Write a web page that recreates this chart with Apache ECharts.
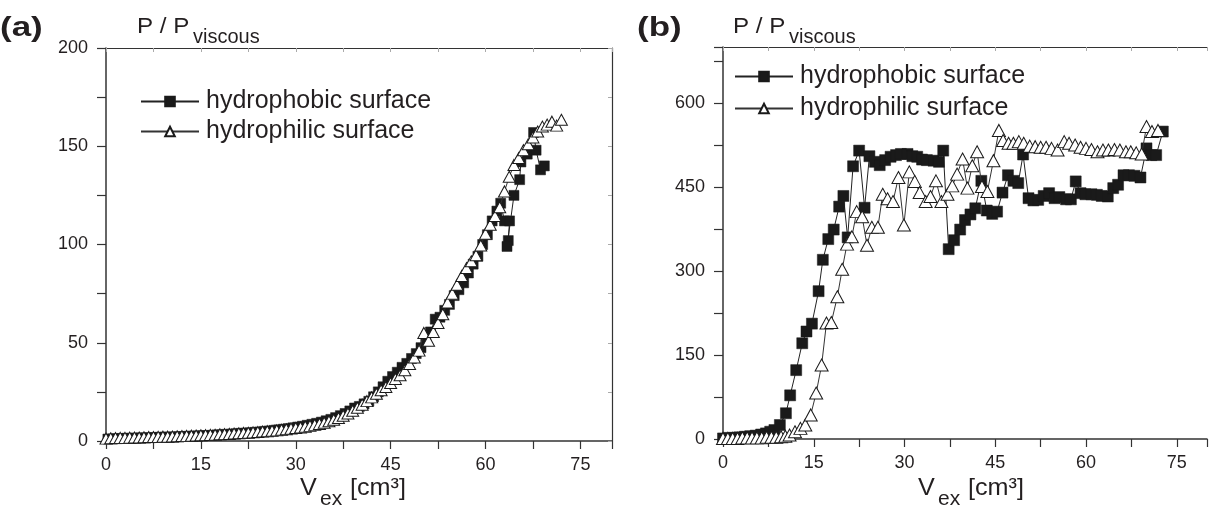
<!DOCTYPE html>
<html><head><meta charset="utf-8">
<script src="https://cdn.jsdelivr.net/npm/echarts@6/dist/echarts.min.js"></script>
<style>html,body{margin:0;padding:0;background:#fff}#c{width:1210px;height:516px}</style>
</head><body><div id="c"></div>
<script>
// ---- tick labels ----
const xTickLabels = [0, 15, 30, 45, 60, 75];
const yTickLabelsA = [0, 50, 100, 150, 200];
const yTickLabelsB = [0, 150, 300, 450, 600];
const seriesNames = ['hydrophobic surface', 'hydrophilic surface'];

// ---- panel (a) ----
const phobicA_x = [0.3,1.05,1.8,2.55,3.3,4.05,4.8,5.55,6.3,7.05,
  7.8,8.55,9.3,10.05,10.8,11.55,12.3,13.05,13.8,14.55,
  15.3,16.05,16.8,17.55,18.3,19.05,19.8,20.55,21.3,22.05,
  22.8,23.55,24.3,25.05,25.8,26.55,27.3,28.05,28.8,29.55,
  30.3,31.05,31.8,32.55,33.3,34.05,34.8,35.55,36.3,37.05,
  37.8,38.55,39.3,40.05,40.8,41.55,42.3,43.05,43.8,44.55,
  45.3,46.05,46.8,47.55,48.3,49.05,49.8,50.55,51.3,52.05,
  52.8,53.55,54.3,55.05,55.8,56.55,57.3,58.05,58.8,59.55,
  60.3,61.05,61.8,62.4,63.0,63.8,63.6,63.4,64.5,65.4,
  65.6,66.6,67.6,68.0,68.7,69.3];
const phobicA_y = [1.0,1.1,1.2,1.3,1.4,1.4,1.5,1.6,1.6,1.7,
  1.8,1.9,2.0,2.0,2.1,2.2,2.3,2.4,2.5,2.6,
  2.7,2.8,2.9,3.1,3.2,3.4,3.5,3.7,3.9,4.0,
  4.2,4.4,4.6,4.9,5.1,5.4,5.7,6.0,6.3,6.7,
  7.1,7.5,8.0,8.5,9.0,9.6,10.3,11.0,11.9,12.9,
  14.0,15.3,16.8,17.6,18.9,20.2,22.5,25.0,27.6,30.4,
  32.8,35.0,37.5,39.5,42.0,44.5,47.5,51.0,55.5,62.0,
  63.0,66.5,69.5,74.0,77.0,80.5,85.5,90.0,94.0,100.0,
  105.0,112.0,117.0,121.0,112.0,112.0,102.0,99.0,125.0,133.0,
  142.0,146.0,157.0,148.0,138.0,140.0];
const philicA_x = [0,0.75,1.5,2.25,3,3.75,4.5,5.25,6,6.75,
  7.5,8.25,9,9.75,10.5,11.25,12,12.75,13.5,14.25,
  15,15.75,16.5,17.25,18,18.75,19.5,20.25,21,21.75,
  22.5,23.25,24,24.75,25.5,26.25,27,27.75,28.5,29.25,
  30,30.75,31.5,32.25,33,33.75,34.5,35.25,36,36.75,
  37.5,38.25,39,39.75,40.5,41.25,42,42.75,43.5,44.25,
  45,45.75,46.5,47.25,48,48.75,49.5,50.25,51,51.75,
  52.5,53.25,54,54.75,55.5,56.25,57,57.75,58.5,59.25,
  60,60.75,61.5,62.25,63,63.75,64.5,65.25,66,66.75,
  67.5,68.25,69,69.75,70.5,71.25,72];
const philicA_y = [1.2,1.4,1.5,1.6,1.6,1.7,1.8,1.8,1.9,2.0,
  2.0,2.1,2.2,2.2,2.3,2.4,2.5,2.6,2.7,2.8,
  2.9,3.0,3.1,3.2,3.4,3.5,3.6,3.8,3.9,4.1,
  4.2,4.4,4.6,4.8,5.0,5.2,5.4,5.7,6.0,6.3,
  6.6,6.9,7.3,7.7,8.2,8.7,9.3,10.0,10.8,11.7,
  12.8,14.0,15.4,16.9,18.5,20.3,22.2,24.0,25.8,27.5,
  29.5,31.6,33.5,36.0,39.2,42.5,46.0,55.0,51.0,55.5,
  60.0,64.5,70.5,75.0,79.5,84.0,88.0,91.5,94.5,99.5,
  105.5,110.0,114.5,119.0,127.0,134.5,140.5,144.0,148.0,151.0,
  154.5,157.5,160.0,161.0,162.5,160.5,163.5];

// ---- panel (b) ----
const phobicB_x = [0,0.9,1.8,2.7,3.6,4.5,5.4,6.3,7.1,7.8,
  8.5,9.4,10.4,11.1,12.1,13.1,13.8,14.7,15.8,16.5,
  17.4,18.3,19.2,19.9,20.6,21.5,22.5,23.4,24.2,25.1,
  25.9,26.8,27.7,28.6,29.4,30.5,31.3,32.1,32.9,33.7,
  34.8,35.7,36.4,37.3,38.2,39.2,40.0,40.9,41.7,42.7,
  43.6,44.5,45.3,46.2,47.1,48.0,48.8,49.6,50.5,51.3,
  52.1,53.0,53.9,54.8,55.6,56.7,57.5,58.3,59.1,59.9,
  60.9,61.8,62.6,63.6,64.5,65.3,66.2,67.1,68.0,69.0,
  70.0,70.8,71.6,72.7];
const phobicB_y = [1,2,2,3,4,5,6,8,10,13,
  16,25,46,78,123,171,192,206,264,320,
  357,374,415,434,360,487,515,413,505,495,
  489,498,504,507,509,509,505,504,499,498,
  497,495,515,339,355,374,391,401,412,461,
  408,402,406,440,471,461,457,508,430,426,
  427,434,439,430,432,428,428,460,439,437,
  437,436,434,433,448,454,471,471,470,467,
  519,507,507,549];
const philicB_x = [0,0.8,1.6,2.4,3.2,4.0,4.8,5.6,6.4,7.2,
  8.0,8.8,9.6,10.3,11.0,11.9,12.8,13.6,14.5,15.4,
  16.3,17.1,17.9,18.9,19.7,20.5,21.3,22.1,23.0,23.8,
  24.6,25.6,26.4,27.2,28.1,29.0,29.9,30.8,31.7,32.5,
  33.5,34.3,35.2,36.1,37.1,37.9,38.7,39.6,40.4,41.2,
  42.0,42.8,43.7,44.7,45.6,46.3,47.2,48.0,48.9,49.7,
  50.7,51.6,52.5,53.4,54.3,55.3,56.4,57.2,58.2,59.1,
  60.0,60.9,61.9,62.8,63.7,64.7,65.6,66.6,67.4,68.3,
  69.2,70.0,70.9,71.9];
const philicB_y = [1,1,1,1,2,2,2,2,2,3,
  3,3,4,5,7,13,19,25,43,82,
  132,207,208,254,303,348,361,406,397,346,
  378,378,437,429,424,467,382,477,460,440,
  424,433,461,424,437,452,473,500,448,488,
  513,451,442,497,551,533,528,528,531,528,
  523,522,521,521,519,516,531,528,525,521,
  519,517,513,516,516,517,516,513,513,511,
  509,558,549,551];

function pairs(xs, ys) { return xs.map((x, i) => [x, ys[i]]); }

const FONT = '"Liberation Sans", Arial, Helvetica, sans-serif';
const TXT = '#231f20';
const AX = '#333';

function xMain(g) {
  return { type: 'value', gridIndex: g, min: 0, max: 80, interval: 7.5, position: 'bottom',
    axisLine: { show: true, onZero: false, lineStyle: { color: AX, width: 1.5 } },
    axisTick: { show: true, inside: false, length: 8, lineStyle: { color: AX, width: 1.2 } },
    axisLabel: { show: true, margin: 15, fontSize: 18, color: TXT, fontFamily: FONT,
      formatter: v => xTickLabels.includes(v) ? String(v) : '' },
    splitLine: { show: false } };
}
function xTop(g) {
  return { type: 'value', gridIndex: g, min: 0, max: 80, interval: 7.5, position: 'top',
    axisLine: { show: true, onZero: false, lineStyle: { color: AX, width: 1.2 } },
    axisTick: { show: true, inside: true, length: 4, lineStyle: { color: '#aaa', width: 1 } },
    axisLabel: { show: false }, splitLine: { show: false } };
}
function yMain(g, max, interval, labels) {
  return { type: 'value', gridIndex: g, min: 0, max: max, interval: interval, position: 'left',
    axisLine: { show: true, onZero: false, lineStyle: { color: AX, width: 1.5 } },
    axisTick: { show: true, inside: false, length: 9, lineStyle: { color: AX, width: 1.2 } },
    axisLabel: { show: true, margin: 18, fontSize: 18, color: TXT, fontFamily: FONT,
      formatter: v => labels.includes(v) ? String(v) : '' },
    splitLine: { show: false } };
}
function yRight(g, max, interval) {
  return { type: 'value', gridIndex: g, min: 0, max: max, interval: interval, position: 'right',
    axisLine: { show: true, onZero: false, lineStyle: { color: AX, width: 1.2 } },
    axisTick: { show: true, inside: true, length: 4, lineStyle: { color: '#aaa', width: 1 } },
    axisLabel: { show: false }, splitLine: { show: false } };
}

function phobic(xi, yi, data, size) {
  return { name: seriesNames[0], type: 'line', xAxisIndex: xi, yAxisIndex: yi, data: data,
    symbol: 'rect', symbolSize: size, showAllSymbol: true,
    lineStyle: { color: '#222', width: 1 },
    itemStyle: { color: '#1a1a1a', borderColor: '#1a1a1a', borderWidth: 0.5 }, z: 2 };
}
function philic(xi, yi, data, size) {
  return { name: seriesNames[1], type: 'line', xAxisIndex: xi, yAxisIndex: yi, data: data,
    symbol: 'triangle', symbolSize: size, showAllSymbol: true,
    lineStyle: { color: '#333', width: 1 },
    itemStyle: { color: '#ffffff', borderColor: '#1a1a1a', borderWidth: 1 }, z: 3 };
}

function legendAt(left, top, gap) {
  return { data: seriesNames, orient: 'vertical', left: left, top: top,
    itemWidth: 58, itemHeight: 12, itemGap: gap, selectedMode: false,
    textStyle: { fontSize: 25, fontFamily: FONT, color: TXT, padding: [0, 0, 0, 2], lineHeight: 25 } };
}

function txt(x, y, s, size, bold, sx) {
  return { type: 'text', x: x, y: y, scaleX: sx || 1, silent: true,
    style: { text: s, fontSize: size, fontWeight: bold ? 'bold' : 'normal', fontFamily: FONT,
      fill: TXT, textVerticalAlign: 'top', textAlign: 'left' } };
}

const chart = echarts.init(document.getElementById('c'), null, { renderer: 'canvas' });
chart.setOption({
  animation: false,
  backgroundColor: '#ffffff',
  grid: [
    { left: 106, top: 48, width: 506, height: 393 },
    { left: 723, top: 47, width: 499, height: 392 }
  ],
  xAxis: [xMain(0), xTop(0), xMain(1), xTop(1)],
  yAxis: [yMain(0, 200, 25, yTickLabelsA), yRight(0, 200, 25), yMain(1, 700, 75, yTickLabelsB)],
  legend: [legendAt(135, 84, 5), legendAt(729, 59, 7)],
  series: [
    phobic(0, 0, pairs(phobicA_x, phobicA_y), 10),
    philic(0, 0, pairs(philicA_x, philicA_y), [12, 11]),
    philic(2, 2, pairs(philicB_x, philicB_y), [13, 12]),
    phobic(2, 2, pairs(phobicB_x, phobicB_y), 11)
  ],
  graphic: [
    txt(0, 14, '(a)', 28, true, 1.25),
    txt(137, 16, 'P / P', 22, false, 1.1),
    txt(193, 27, 'viscous', 20, false, 1),
    txt(300, 476, 'V', 24, false, 1.05),
    txt(320, 489, 'ex', 20, false, 1.05),
    txt(350, 476, '[cm³]', 24, false, 1.05),
    txt(637, 14, '(b)', 28, true, 1.25),
    txt(733, 16, 'P / P', 22, false, 1.1),
    txt(789, 27, 'viscous', 20, false, 1),
    txt(918, 476, 'V', 24, false, 1.05),
    txt(938, 489, 'ex', 20, false, 1.05),
    txt(968, 476, '[cm³]', 24, false, 1.05)
  ]
});
</script>
</body></html>
